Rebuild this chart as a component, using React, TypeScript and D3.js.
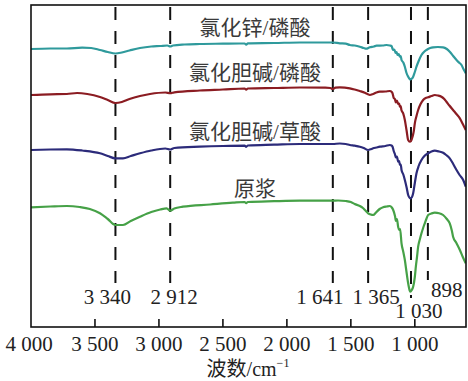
import React from "react";
import * as d3 from "d3";

// ---- data (wavenumber cm^-1, transmittance a.u.) ----
const seriesNames = ["氯化锌/磷酸", "氯化胆碱/磷酸", "氯化胆碱/草酸", "原浆"];

const znPhos: [number, number][] = [
  [4000,278],[3850,278.5],[3720,278.5],[3600,279.3],[3530,279],[3461,277],[3400,275],[3340,273.5],[3290,274.5],[3230,276.5],[3148,279],[3060,280.5],[2990,281],[2935,281.5],[2912,280.5],[2890,281.5],[2800,282.5],[2680,283],[2500,283.3],[2370,283.5],[2330,283.5],[2318,282.3],[2305,283.7],[2100,284],[1898,284.5],[1700,284.5],[1642,284.5],[1586,283.7],[1540,283.3],[1508,282],[1470,281.5],[1430,280.3],[1400,279],[1380,278.3],[1352,279.7],[1320,280.5],[1299,281.3],[1250,281.5],[1221,282],[1195,281.5],[1182,281],[1175,278.5],[1169,277],[1160,277.5],[1150,274],[1143,275],[1135,272],[1126,273],[1117,270.3],[1110,270.8],[1104,267],[1090,264.5],[1078,260.3],[1065,254],[1052,250.3],[1040,248],[1034,247.7],[1022,248.5],[1013,250.3],[1000,255],[987,260.3],[970,266],[948,272],[925,275.5],[909,277],[880,279],[857,279.7],[820,280],[779,279.7],[750,278],[727,275.3],[700,271],[674,267],[655,264.5],[635,262],[620,258],[602,253.7]
];

const cholPhos: [number, number][] = [
  [4000,232],[3850,232.7],[3720,233],[3640,234],[3560,233],[3461,230],[3400,227],[3340,224],[3290,225],[3230,228],[3148,231],[3070,233],[2950,234.5],[2912,233.8],[2880,234.7],[2680,236.5],[2500,237.5],[2330,238.5],[2318,237.3],[2305,238.5],[2100,239],[1898,239.5],[1700,239.3],[1660,239],[1642,238],[1620,239.3],[1586,239.7],[1508,238.7],[1470,237.5],[1430,236],[1391,234.3],[1370,233],[1352,232],[1326,233],[1300,234.5],[1273,235.3],[1230,235.5],[1195,236],[1180,235],[1174,233.7],[1165,229],[1156,228],[1148,224.5],[1140,226.5],[1130,223],[1122,223.5],[1117,220.3],[1110,220.8],[1105,217],[1091,213.7],[1078,207],[1065,197],[1052,187],[1039,185.3],[1030,186],[1018,190.3],[1008,196],[1000,203.7],[987,211],[974,217],[955,223],[935,227],[915,229],[896,229.7],[870,231],[844,232],[820,231.5],[792,230.3],[770,228],[753,225.3],[730,221.5],[701,217],[675,213],[648,208.7],[625,203],[602,197]
];

const cholOx: [number, number][] = [
  [4000,177],[3850,177.5],[3720,177.7],[3600,176.5],[3461,173.7],[3400,171],[3340,168.7],[3281,168.7],[3220,171],[3148,173.7],[3060,176.5],[2950,178.5],[2912,177.5],[2880,179],[2680,180.3],[2500,181],[2330,181.3],[2318,180.2],[2305,181.5],[2100,182.3],[1898,183],[1700,183],[1642,183],[1586,183.5],[1540,183],[1508,182],[1470,181.3],[1430,180.3],[1400,179],[1365,177],[1340,178],[1326,178.7],[1300,179.5],[1273,180.3],[1230,181],[1195,182],[1182,181.5],[1174,180.3],[1165,176],[1156,173],[1148,169.5],[1140,170.5],[1130,165.3],[1122,166],[1117,162],[1110,162.5],[1104,157],[1090,152.5],[1078,147],[1065,140],[1052,132],[1040,129],[1034,128.7],[1022,130],[1013,133.7],[1000,144],[987,153.7],[970,161],[948,167],[925,171],[896,173.7],[870,175.5],[844,176.3],[810,175.5],[779,174.3],[755,172],[727,168.7],[700,163],[674,157],[650,152],[622,147],[602,140.3]
];

const pulp: [number, number][] = [
  [4000,119.7],[3850,120.5],[3720,121],[3620,120],[3540,118],[3461,113.7],[3400,108],[3340,102],[3281,102],[3220,106],[3148,110.3],[3060,115],[2990,117.5],[2940,118.7],[2912,116.3],[2880,118.5],[2813,120.3],[2600,122.5],[2422,124.3],[2330,125],[2318,123.8],[2305,125],[2100,125.8],[1898,126.3],[1700,126.3],[1642,126.3],[1600,126.5],[1540,126],[1500,125],[1470,123],[1430,121],[1406,119],[1390,117],[1365,113.7],[1345,112.5],[1326,112],[1300,115],[1275,118],[1248,119.7],[1220,120.5],[1195,121],[1180,119.5],[1169,117],[1155,111],[1148,106],[1140,108],[1130,100],[1123,97],[1115,98],[1104,83.7],[1090,75],[1078,67],[1065,55],[1052,43.7],[1040,36.5],[1034,35.3],[1024,37],[1013,40.3],[1000,50],[992,60.3],[983,70],[974,80.3],[960,88],[948,93.7],[935,99],[922,103.7],[910,108],[896,112],[870,113.5],[844,114.3],[810,113.8],[779,112],[750,108],[727,103.7],[710,96],[701,90.3],[675,84],[648,77],[625,70],[602,63.7]
];

const peaks = [3340, 2912, 1641, 1365, 1030, 898];
const peakLabels = ["3 340", "2 912", "1 641", "1 365", "1 030", "898"];
const xTicks = [4000, 3500, 3000, 2500, 2000, 1500, 1000];
const xTickLabels = ["4 000", "3 500", "3 000", "2 500", "2 000", "1 500", "1 000"];

// ---- layout / style ----
const W = 468, H = 381;
const left = 31, right = 466, top = 5, bottom = 327;
const colors = ["#2f9a9c", "#8b1c22", "#2c2b7a", "#46a147"];
const labelBaselines = [35, 80, 139, 196];
const peakLabelDx = [-8, 4, -13, 8, 8, 19];
const peakLabelY = [304, 304, 304, 304, 318, 297];
const peakLineEnd = [283, 283, 283, 283, 298, 280];
const serif = "'Liberation Serif', 'Times New Roman', 'Noto Sans CJK SC', serif";

export default function App() {
  const x = d3.scaleLinear().domain([4000, 600]).range([left, right]);
  const y = d3.scaleLinear().domain([0, 322]).range([bottom, top]);
  const line = d3
    .line<[number, number]>()
    .x((d) => x(d[0]))
    .y((d) => y(d[1]))
    .curve(d3.curveMonotoneX);
  const all = [znPhos, cholPhos, cholOx, pulp];
  return (
    <svg
      width={W}
      height={H}
      style={{ position: "absolute", left: 0, top: 0, background: "#fff" }}
      fontFamily={serif}
    >
      <defs>
        <clipPath id="plotClip">
          <rect x={left} y={top} width={right - left} height={bottom - top} />
        </clipPath>
      </defs>
      {peaks.map((p, i) => (
        <line
          key={"pk" + p}
          x1={x(p)}
          x2={x(p)}
          y1={7}
          y2={peakLineEnd[i]}
          stroke="#111"
          strokeWidth={2}
          strokeDasharray="13 11"
        />
      ))}
      <g clipPath="url(#plotClip)">
        {all.map((s, i) => (
          <path
            key={"s" + i}
            d={line(s) || ""}
            fill="none"
            stroke={colors[i]}
            strokeWidth={2.2}
            strokeLinejoin="round"
          />
        ))}
      </g>
      {seriesNames.map((n, i) => (
        <text
          key={"n" + i}
          x={255}
          y={labelBaselines[i]}
          textAnchor="middle"
          fontSize={21}
          fill="#3a3a3a"
        >
          {n}
        </text>
      ))}
      {peakLabels.map((t, i) => (
        <text
          key={"pl" + i}
          x={x(peaks[i]) + peakLabelDx[i]}
          y={peakLabelY[i]}
          textAnchor="middle"
          fontSize={21}
          fill="#222"
        >
          {t}
        </text>
      ))}
      <rect
        x={left}
        y={top}
        width={right - left}
        height={bottom - top}
        fill="none"
        stroke="#111"
        strokeWidth={1.6}
      />
      {xTicks.map((t, i) => (
        <g key={"t" + t}>
          {i > 0 && (
            <line x1={x(t)} x2={x(t)} y1={bottom} y2={bottom - 8} stroke="#111" strokeWidth={1.6} />
          )}
          <text x={x(t) - (i === 0 ? 2 : 0)} y={351} textAnchor="middle" fontSize={21} fill="#222">
            {xTickLabels[i]}
          </text>
        </g>
      ))}
      <text x={248} y={376} textAnchor="middle" fontSize={20} fill="#222">
        波数/cm
        <tspan fontSize={12} dy={-9}>−1</tspan>
      </text>
    </svg>
  );
}
